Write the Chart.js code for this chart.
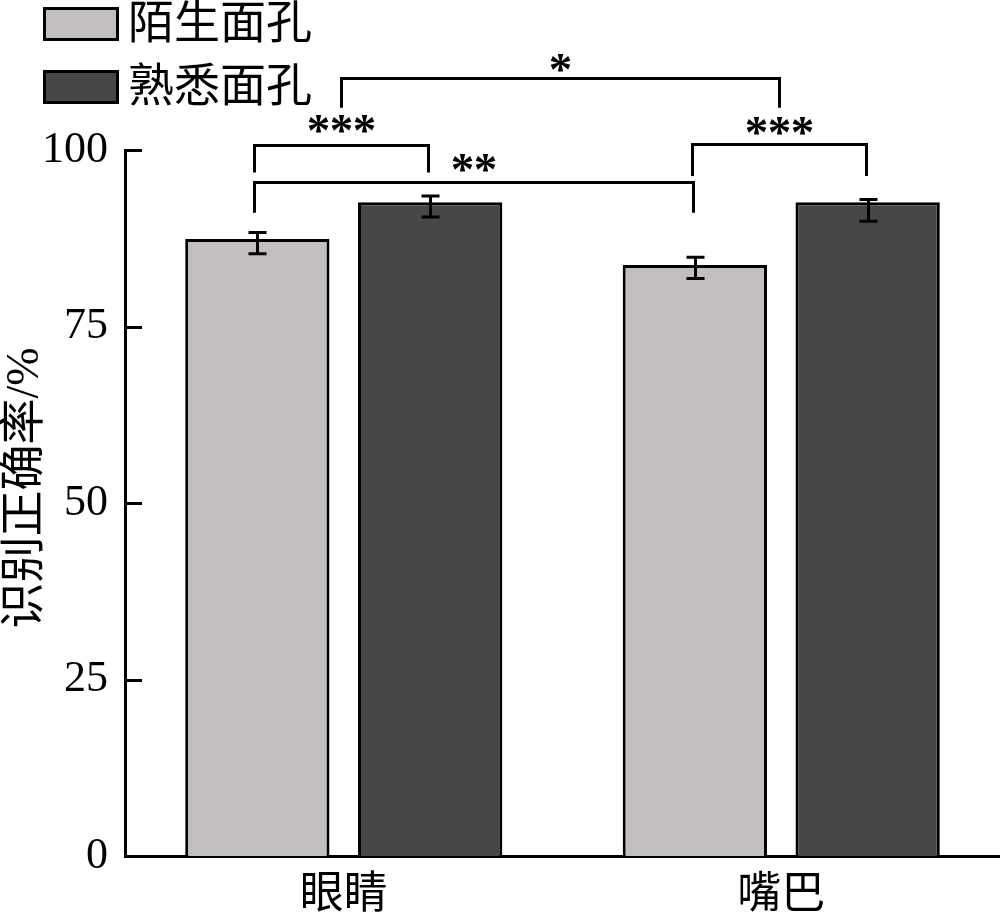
<!DOCTYPE html>
<html>
<head>
<meta charset="utf-8">
<script src="https://cdn.jsdelivr.net/npm/chart.js@4/dist/chart.umd.min.js"></script>
<style>
  html,body{margin:0;padding:0;background:#fff;}
  canvas{display:block;}
</style>
</head>
<body>
<canvas id="c" width="1000" height="915"></canvas>
<script>
// 识别正确率柱状图
const categories = ['眼睛', '嘴巴'];
const seriesLabels = ['陌生面孔', '熟悉面孔'];
const seriesColors = ['#c1bdc1', '#474747'];
const strangerValues = [87.4, 83.7];
const familiarValues = [92.6, 92.6];
// error bar bounds (low / high)
const strangerErrLow = [85.3, 81.8];
const strangerErrHigh = [88.3, 84.8];
const familiarErrLow = [90.5, 89.9];
const familiarErrHigh = [93.5, 93.0];
const yTicks = [0, 25, 50, 75, 100];
const yTitle = '识别正确率/%';

// significance brackets: ends are [dataset, category] or ['c', category] for category center
const sigFrom = [[0, 0], [0, 0], [0, 1], ['c', 0]];
const sigTo = [[1, 0], [0, 1], [1, 1], ['c', 1]];
const sigLevel = [100.7, 95.5, 100.9, 110.2];
const sigLeg = [96.8, 91.1, 96.3, 106.0];
const sigLabelY = [103.7, 98.2, 103.4, 112.3];
const sigLabels = ['***', '**', '***', '*'];

const FONT = "'Liberation Serif', 'Noto Sans CJK SC', serif";
const errLow = [strangerErrLow, familiarErrLow];
const errHigh = [strangerErrHigh, familiarErrHigh];

const extras = {
  id: 'extras',
  afterDraw(chart) {
    const ctx = chart.ctx, y = chart.scales.y, x = chart.scales.x;
    const area = chart.chartArea;
    ctx.save();
    ctx.strokeStyle = '#000';
    ctx.fillStyle = '#000';
    // inward y ticks
    ctx.lineWidth = 3;
    yTicks.forEach(v => {
      const py = Math.round(y.getPixelForValue(v)) + 0.5;
      ctx.beginPath(); ctx.moveTo(area.left, py); ctx.lineTo(area.left + 17, py); ctx.stroke();
    });
    // error bars
    [0, 1].forEach(di => {
      chart.getDatasetMeta(di).data.forEach((bar, ci) => {
        const px = Math.round(bar.x) + 0.5;
        const lo = y.getPixelForValue(errLow[di][ci]), hi = y.getPixelForValue(errHigh[di][ci]);
        ctx.beginPath();
        ctx.moveTo(px, lo); ctx.lineTo(px, hi);
        ctx.moveTo(px - 9, lo); ctx.lineTo(px + 9, lo);
        ctx.moveTo(px - 9, hi); ctx.lineTo(px + 9, hi);
        ctx.stroke();
      });
    });
    // significance brackets
    const endX = e => e[0] === 'c' ? x.getPixelForValue(e[1]) : chart.getDatasetMeta(e[0]).data[e[1]].x;
    ctx.font = 'bold 47px ' + FONT;
    ctx.textAlign = 'center';
    ctx.textBaseline = 'alphabetic';
    sigLabels.forEach((lab, i) => {
      const x1 = Math.round(endX(sigFrom[i]) - 3) + 0.5, x2 = Math.round(endX(sigTo[i]) - 2) + 0.5;
      const ly = Math.round(y.getPixelForValue(sigLevel[i])) + 0.5;
      const leg = y.getPixelForValue(sigLeg[i]);
      ctx.lineWidth = 3;
      ctx.beginPath();
      ctx.moveTo(x1, leg); ctx.lineTo(x1, ly); ctx.lineTo(x2, ly); ctx.lineTo(x2, leg);
      ctx.stroke();
      const m = ctx.measureText('*');
      const cy = y.getPixelForValue(sigLabelY[i]);
      const base = cy + (m.actualBoundingBoxAscent - m.actualBoundingBoxDescent) / 2;
      const step = 23, cx = (x1 + x2) / 2;
      for (let k = 0; k < lab.length; k++) {
        ctx.fillText(lab[k], cx + (k - (lab.length - 1) / 2) * step, base);
      }
    });
    // y title
    ctx.save();
    ctx.translate(26, 488);
    ctx.rotate(-Math.PI / 2);
    ctx.font = '46px ' + FONT;
    ctx.textBaseline = 'middle';
    ctx.textAlign = 'center';
    ctx.fillText(yTitle, 0, 0);
    ctx.restore();
    // legend
    ctx.font = '46px ' + FONT;
    ctx.textAlign = 'left';
    ctx.textBaseline = 'middle';
    seriesLabels.forEach((lab, i) => {
      const top = 8 + i * 63;
      ctx.fillStyle = seriesColors[i];
      ctx.fillRect(44, top, 74, 32);
      ctx.lineWidth = 3;
      ctx.strokeStyle = '#000';
      ctx.strokeRect(44.5, top + 0.5, 73, 31);
      ctx.fillStyle = '#000';
      ctx.fillText(lab, 128, top + 18);
    });
    ctx.restore();
  }
};

new Chart(document.getElementById('c'), {
  type: 'bar',
  data: {
    labels: categories,
    datasets: [
      {label: seriesLabels[0], data: strangerValues, backgroundColor: seriesColors[0], borderColor: '#000', borderWidth: 3},
      {label: seriesLabels[1], data: familiarValues, backgroundColor: seriesColors[1], borderColor: '#000', borderWidth: 3}
    ]
  },
  options: {
    responsive: false,
    devicePixelRatio: 1,
    animation: false,
    categoryPercentage: 0.79,
    barPercentage: 0.835,
    layout: {padding: {top: 150, right: 0, left: 0, bottom: 0}},
    plugins: {legend: {display: false}, tooltip: {enabled: false}},
    scales: {
      x: {
        grid: {display: false, drawTicks: false},
        border: {display: true, color: '#000', width: 3},
        ticks: {color: '#000', padding: 14, font: {family: FONT, size: 44}},
        afterFit: s => { s.height = 59; }
      },
      y: {
        min: 0, max: 100,
        grid: {display: false, drawTicks: false},
        border: {display: true, color: '#000', width: 3},
        ticks: {stepSize: 25, color: '#000', padding: 17, font: {family: FONT, size: 44}},
        afterFit: s => { s.width = 125; }
      }
    }
  },
  plugins: [extras]
});
</script>
</body>
</html>
